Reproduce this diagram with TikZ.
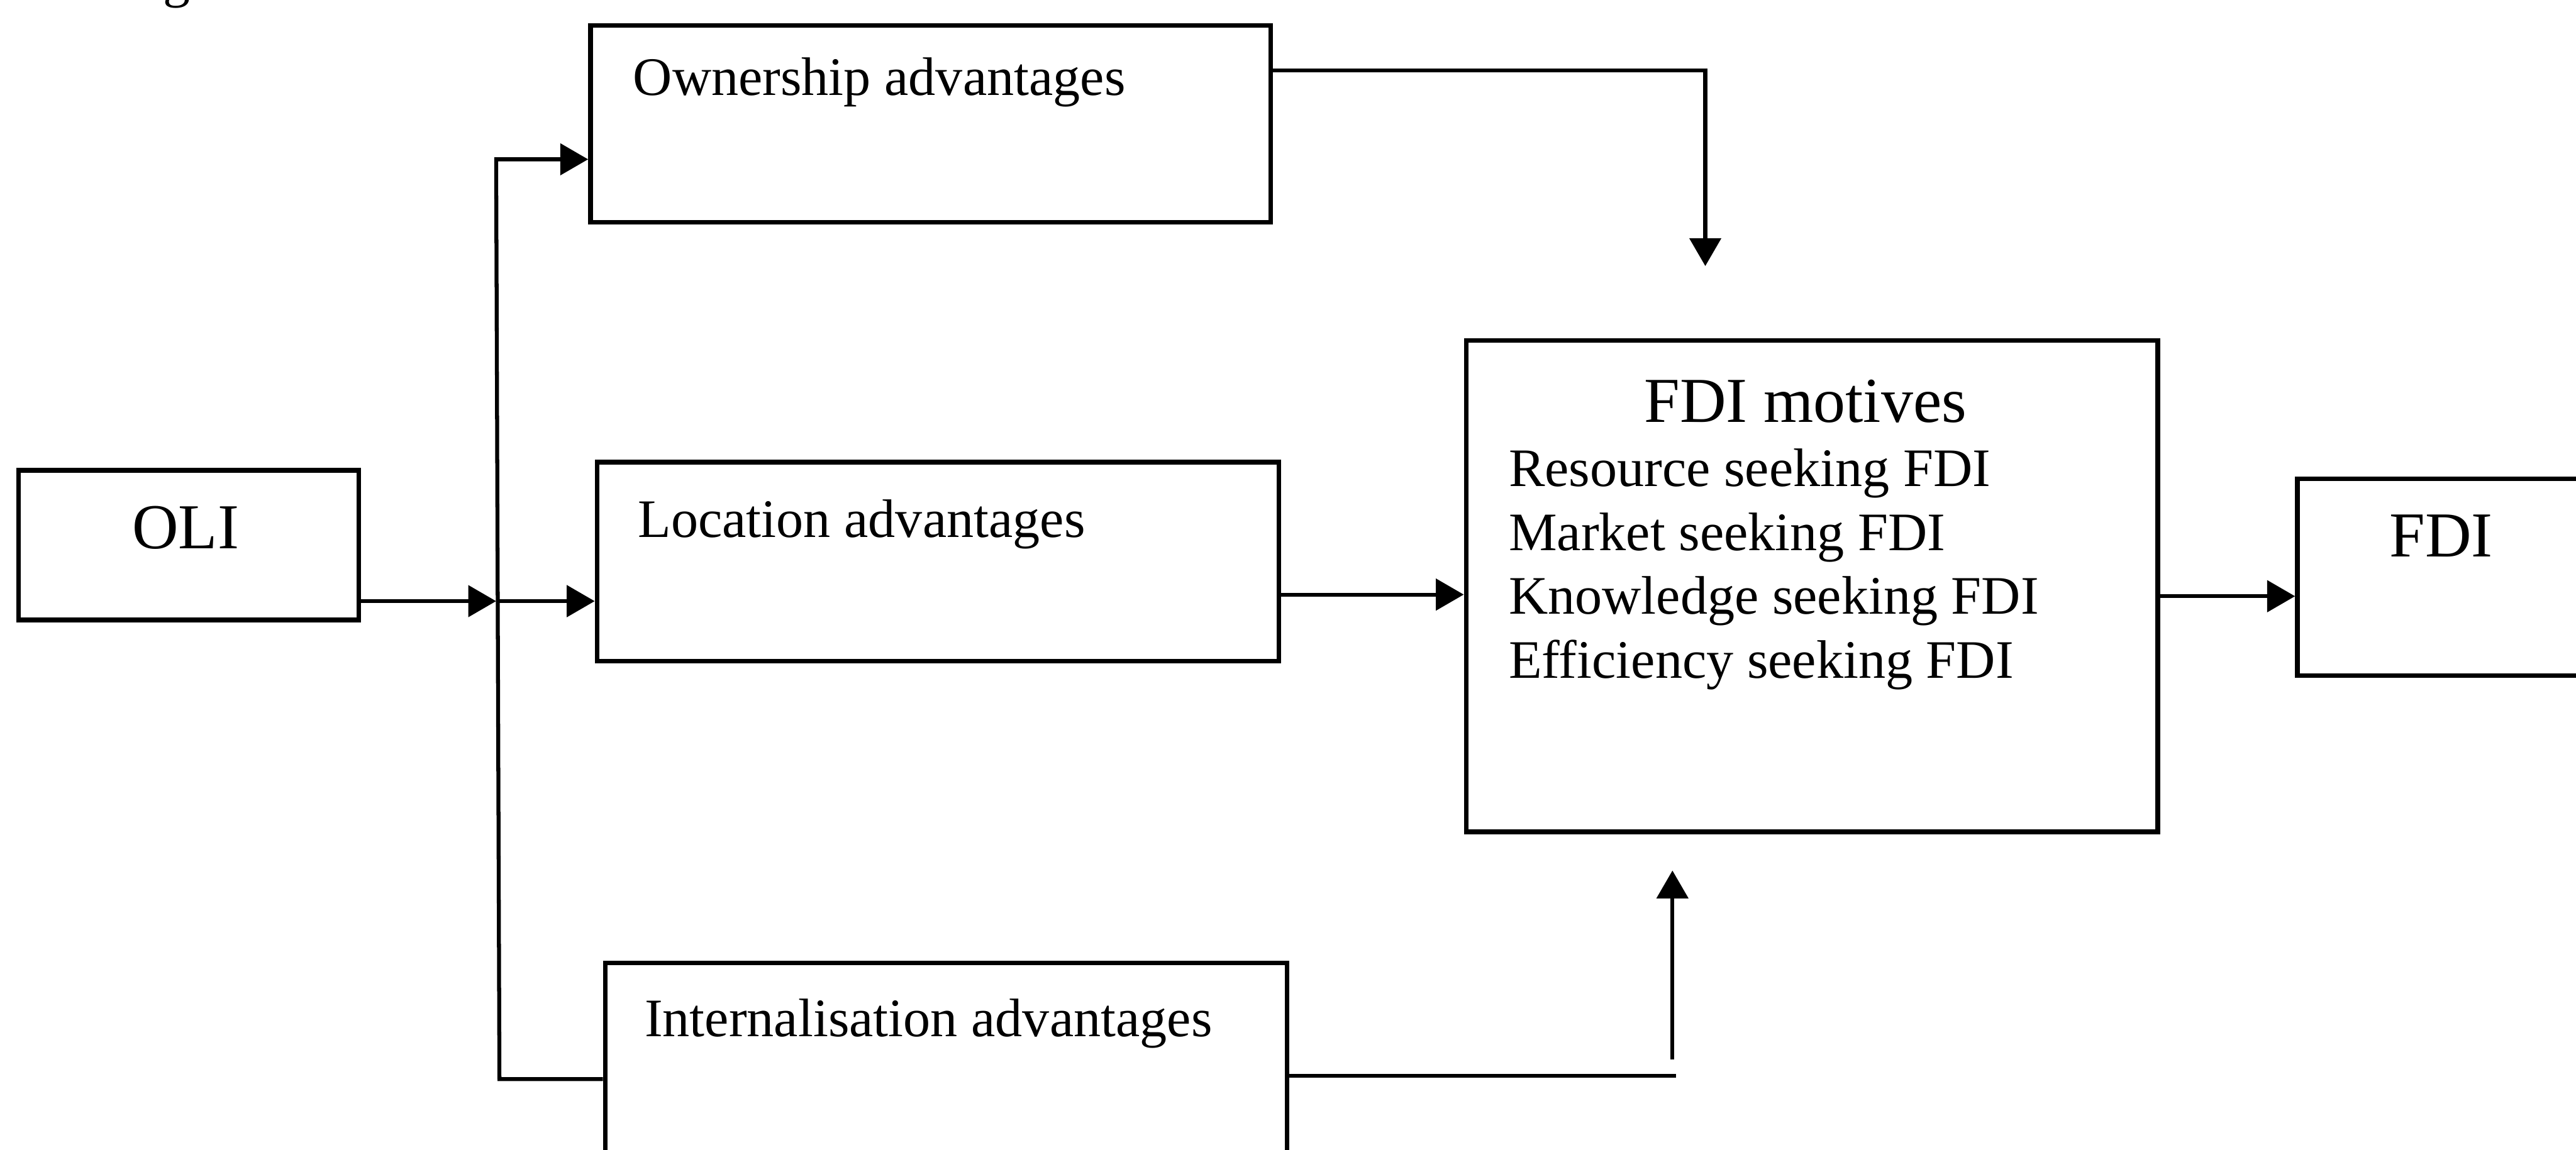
\documentclass[tikz,border=0pt]{standalone}
\usepackage{fontspec}
\setmainfont{Liberation Serif}
\usetikzlibrary{arrows.meta}
\begin{document}
\begin{tikzpicture}[x=0.5pt,y=-0.5pt,
  box/.style={draw,line width=1.4pt,inner sep=0pt,anchor=north west},
  conn/.style={line width=1.2pt},
  arr/.style={conn,-{Triangle[length=8.5pt,width=9.5pt]}},
  small/.style={font=\fontsize{16.5}{19.5}\selectfont,inner sep=0pt,anchor=base west},
  big/.style={font=\fontsize{19.5}{23}\selectfont,inner sep=0pt,anchor=base},
]
\useasboundingbox (0,0) rectangle (1568,700);
\clip (0,0) rectangle (1568,700);

% caption fragment at the top edge
\node[small] (capfrag) at (99,-2) {g};

% boxes
\node[box,minimum width=103.5pt,minimum height=45.5pt] (oli)  at (10,285)  {};
\node[box,minimum width=207pt,minimum height=60pt]     (own)  at (358,14)  {};
\node[box,minimum width=207.5pt,minimum height=60.5pt] (loc)  at (362,280) {};
\node[box,minimum width=207.5pt,minimum height=70pt]   (intl) at (367,585) {};
\node[box,minimum width=210.5pt,minimum height=149.5pt](mot)  at (891,206) {};
\node[box,minimum width=110pt,minimum height=60pt]     (fdi)  at (1397,290){};

% texts
\node[big]   (olitxt)  at (113,334) {OLI};
\node[small] (owntxt)  at (385,58)  {Ownership advantages};
\node[small] (loctxt)  at (388,327) {Location advantages};
\node[small] (intltxt) at (392,631) {Internalisation advantages};
\node[big]   (mottitle) at (1099,257) {FDI motives};
\node[small] (mot1) at (918,296) {Resource seeking FDI};
\node[small] (mot2) at (918,335) {Market seeking FDI};
\node[small] (mot3) at (918,374) {Knowledge seeking FDI};
\node[small] (mot4) at (918,413) {Efficiency seeking FDI};
\node[big]   (fditxt) at (1486,339) {FDI};

% branching from OLI to the three advantages
\coordinate (jtop) at (302,97);
\coordinate (jmid) at (302,366);
\coordinate (jbot) at (304,657);
\draw[arr] (oli.east |- jmid) -- (jmid);
\draw[arr] (jbot -| intl.west) -- (jbot) -- (jtop) -- (jtop -| own.west);
\draw[arr] (jmid) -- (jmid -| loc.west);

% advantages feeding the FDI motives
\coordinate (ownturn) at (1038,43);
\coordinate (ownend) at (1038,162);
\draw[arr] (own.east |- ownturn) -- (ownturn) -- (ownend);
\draw[arr] (loc.east |- 0,362) -- (mot.west |- 0,362);
\coordinate (intlend) at (1020,655);
\draw[conn] (intl.east |- intlend) -- (intlend);
\coordinate (upstart) at (1018,645);
\coordinate (upend) at (1018,530);
\draw[arr] (upstart) -- (upend);

% motives to FDI
\draw[arr] (mot.east |- 0,363) -- (fdi.west |- 0,363);
\end{tikzpicture}
\end{document}
